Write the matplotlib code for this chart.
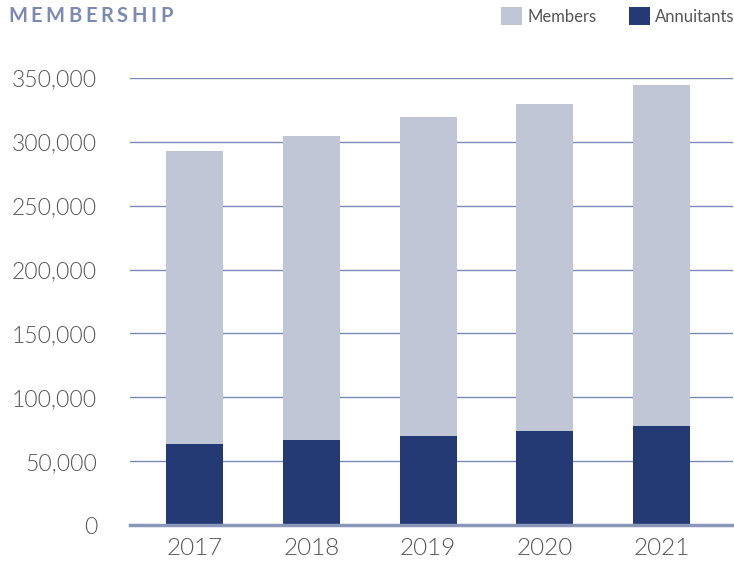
import matplotlib.pyplot as plt
import numpy as np
from matplotlib.ticker import FuncFormatter

# data
years = ['2017', '2018', '2019', '2020', '2021']
annuitants = [63400, 66600, 69700, 73600, 77500]
members = [229400, 238000, 249800, 256000, 267000]

MEMBER_COL = '#c1c6d6'
ANNU_COL = '#233a75'
GRID_COL = '#7b8ab5'
TEXT_COL = '#555555'

plt.rcParams['font.family'] = ['Lato', 'DejaVu Sans']

fig = plt.figure(figsize=(7.34, 5.64), dpi=100)
ax = fig.add_axes([0.177, 0.069, 0.822, 0.793])

x = np.arange(len(years))
ax.bar(x, annuitants, width=0.49, color=ANNU_COL, label='Annuitants', zorder=3)
ax.bar(x, members, width=0.49, bottom=annuitants, color=MEMBER_COL, label='Members', zorder=3)

ax.set_xlim(-0.557, 4.617)
ax.set_ylim(0, 350000)
ax.set_yticks(np.arange(0, 350001, 50000))
ax.yaxis.set_major_formatter(FuncFormatter(lambda v, p: '{:,.0f}'.format(v)))
ax.set_xticks(x)
ax.set_xticklabels(years)

# horizontal grid, thick base line
ax.grid(axis='y', color=GRID_COL, linewidth=1.0, zorder=1)
ax.set_axisbelow(False)
for s in ['top', 'right', 'left']:
    ax.spines[s].set_visible(False)
ax.spines['bottom'].set_color('#8a97b8')
ax.spines['bottom'].set_linewidth(2.5)
ax.spines['bottom'].set_zorder(4)
ax.tick_params(axis='both', length=0, colors=TEXT_COL)
ax.tick_params(axis='y', pad=23.5, labelsize=16.5)
ax.tick_params(axis='x', pad=9, labelsize=17.5)
for lbl in ax.get_yticklabels() + ax.get_xticklabels():
    lbl.set_fontweight(300)

# letter-spaced title, one glyph at a time
fig.canvas.draw()
renderer = fig.canvas.get_renderer()
xpos = 8 / 734
for ch in 'MEMBERSHIP':
    t = fig.text(xpos, 1 - 16 / 564, ch, fontsize=14.5, fontweight='bold',
                 color=GRID_COL, va='center', ha='left')
    w = t.get_window_extent(renderer).width
    xpos += (w + 3.6) / 734

# legend in the top right corner
handles, labels = ax.get_legend_handles_labels()
fig.legend(handles[::-1], labels[::-1], loc='center right',
           bbox_to_anchor=(1.0, 1 - 16 / 564), ncol=2, frameon=False,
           fontsize=12, handlelength=1.25, handleheight=1.25,
           handletextpad=0.3, columnspacing=1.95, borderaxespad=0,
           borderpad=0, labelcolor=TEXT_COL)

fig.savefig('out.png', dpi=100)
